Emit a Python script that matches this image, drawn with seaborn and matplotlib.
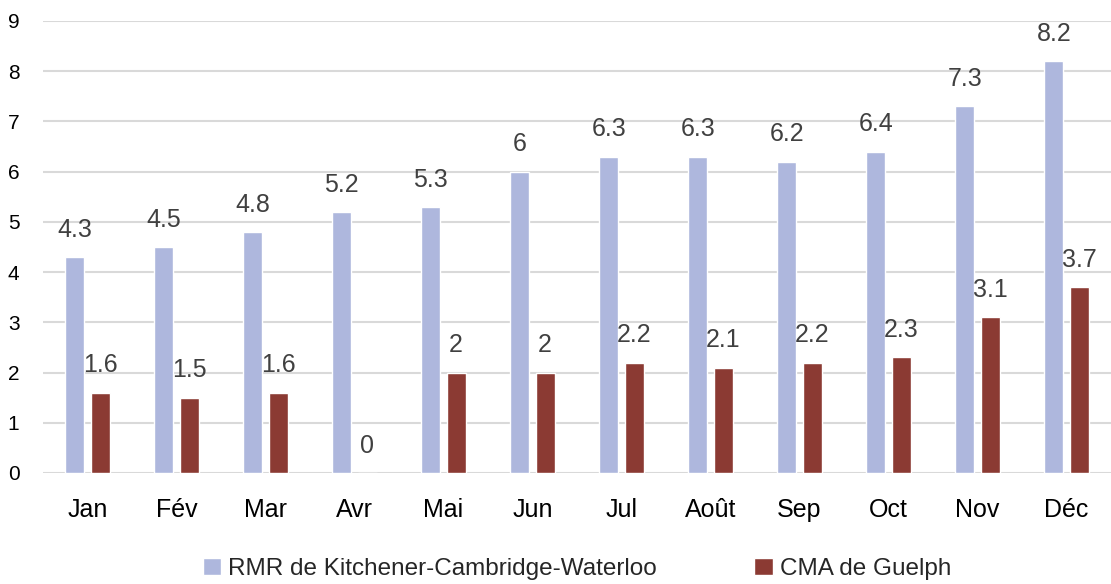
import matplotlib
matplotlib.use("Agg")
import matplotlib.pyplot as plt
import seaborn as sns
import pandas as pd

months = ["Jan", "Fév", "Mar", "Avr", "Mai", "Jun", "Jul", "Août", "Sep", "Oct", "Nov", "Déc"]
series_names = ["RMR de Kitchener-Cambridge-Waterloo", "CMA de Guelph"]
kcw_values = [4.3, 4.5, 4.8, 5.2, 5.3, 6.0, 6.3, 6.3, 6.2, 6.4, 7.3, 8.2]
guelph_values = [1.6, 1.5, 1.6, 0.0, 2.0, 2.0, 2.2, 2.1, 2.2, 2.3, 3.1, 3.7]
value_labels_kcw = ["4.3", "4.5", "4.8", "5.2", "5.3", "6", "6.3", "6.3", "6.2", "6.4", "7.3", "8.2"]
value_labels_guelph = ["1.6", "1.5", "1.6", "0", "2", "2", "2.2", "2.1", "2.2", "2.3", "3.1", "3.7"]
colors = ["#AEB7DD", "#8B3A33"]

df = pd.DataFrame({
    "month": months * 2,
    "series": [series_names[0]] * 12 + [series_names[1]] * 12,
    "value": kcw_values + guelph_values,
})

sns.set_theme(style="white")
plt.rcParams["font.family"] = ["Liberation Sans", "DejaVu Sans"]

fig = plt.figure(figsize=(11.11, 5.84), dpi=100)
ax = fig.add_axes([43 / 1111, 111 / 584, 1068 / 1111, 452 / 584])

sns.barplot(data=df, x="month", y="value", hue="series", order=months,
            hue_order=series_names, palette=colors, width=0.57, gap=0.25,
            saturation=1, ax=ax, legend=True)

labels_all = [value_labels_kcw, value_labels_guelph]
for cont, labs in zip(ax.containers, labels_all):
    for bar, lab in zip(cont, labs):
        x = bar.get_x() + bar.get_width() / 2
        y = bar.get_height()
        ax.annotate(lab, (x, y), xytext=(0, 11), textcoords="offset points",
                    ha="center", va="bottom", fontsize=18, color="#404040")

ax.set_ylim(0, 9)
ax.set_xlim(-0.5, 11.5)
ax.set_yticks(range(0, 10))
ax.yaxis.grid(True, color="#D9D9D9", linewidth=1.5)
ax.set_axisbelow(True)
for s in ax.spines.values():
    s.set_visible(False)
ax.tick_params(axis="y", length=0, pad=17, labelsize=15, labelcolor="#000000")
ax.tick_params(axis="x", length=0, pad=18, labelsize=18, labelcolor="#000000")
ax.set_xlabel("")
ax.set_ylabel("")

handles, labels = ax.get_legend_handles_labels()
ax.legend(handles, labels, loc="center", bbox_to_anchor=(0.5, -0.212),
          ncol=2, frameon=False, fontsize=17.5, handlelength=0.75, handleheight=0.75,
          handletextpad=0.3, columnspacing=4.0, borderpad=0.1)

fig.savefig("out.png", dpi=100)
